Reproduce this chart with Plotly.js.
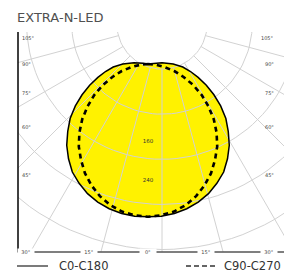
<!DOCTYPE html>
<html><head><meta charset="utf-8">
<script src="https://cdn.plot.ly/plotly-3.0.1.min.js"></script>
<style>html,body{margin:0;padding:0;background:#fff;}#chart{width:288px;height:272px;}</style>
</head><body><div id="chart"></div>
<script>
// ---- data (cd) ----
const gammaSolid = [0,5,10,15,20,25,30,35,40,45,50,55,60,65,70,75,80,85,90,95,100,105];
const c0 = [315,315,313,309,303,295,284,272,255,237,216,196,173,150,128,107,89,72,52,29,10,0];
const c180 = [315,315,313,309,303,295,284,272,255,237,216,196,173,150,128,107,89,72,52,29,10,0];
const gammaDash = [0,5,10,15,20,25,30,35,40,45,50,55,60,65,70,75,80,85,90];
const c90 = [315,313,309,301,290,276,260,241,222,200,177,152,128,103,78,56,33,14,0];
const c270 = [315,313,309,301,290,276,260,241,222,200,177,152,128,103,78,56,33,14,0];
const sideLabels = ['105°','90°','75°','60°','45°'];
const bottomLabels = ['30°','15°','0°','15°','30°'];
const ringLabels = ['160','240'];
const ringLabelValues = [160,240];
const seriesNames = ['C0-C180','C90-C270'];
const titleText = 'EXTRA-N-LED';

// ---- geometry ----
const W=288,H=272, M={l:18,r:4,t:32,b:20};
const S=0.485;                 // px per cd
const O={x:148,y:64};          // pixel of photometric centre
const xr=[(M.l-O.x)/S,(W-M.r-O.x)/S];
const yr=[-(H-M.b-O.y)/S,(O.y-M.t)/S];
const pw=W-M.l-M.r, ph=H-M.t-M.b;
const px2paperX=p=>(p-M.l)/pw, px2paperY=p=>(H-M.b-p)/ph;

function curve(gam, right, left){
  const xs=[],ys=[];
  for(let i=gam.length-1;i>=0;i--){const a=-gam[i]*Math.PI/180;xs.push(left[i]*Math.sin(a));ys.push(-left[i]*Math.cos(a));}
  for(let i=0;i<gam.length;i++){const a=gam[i]*Math.PI/180;xs.push(right[i]*Math.sin(a));ys.push(-right[i]*Math.cos(a));}
  return {xs,ys};
}
const solid=curve(gammaSolid,c0,c180);
const dash=curve(gammaDash,c90,c270);

// grid (drawn with its own centre, as in the source sheet)
const G={x:(162-O.x)/S,y:(O.y-24)/S}, ringStep=93;
const gx=[],gy=[];
for(let k=1;k<=7;k++){const r=k*ringStep;for(let t=0;t<=360;t+=3){gx.push(G.x+r*Math.cos(t*Math.PI/180));gy.push(G.y+r*Math.sin(t*Math.PI/180));}gx.push(null);gy.push(null);}
for(let a=-90;a<=90;a+=15){const t=a*Math.PI/180;gx.push(G.x+ringStep*Math.sin(t),G.x+1200*Math.sin(t),null);gy.push(G.y-ringStep*Math.cos(t),G.y-1200*Math.cos(t),null);}

const traces=[
 {x:solid.xs,y:solid.ys,mode:'lines',fill:'toself',fillcolor:'#fff200',line:{width:0,color:'rgba(0,0,0,0)'},hoverinfo:'skip',showlegend:false},
 {x:gx,y:gy,mode:'lines',line:{color:'#d2d2d2',width:1},hoverinfo:'skip',showlegend:false,connectgaps:false},
 {x:dash.xs,y:dash.ys,mode:'lines',line:{color:'#000',width:2.6,dash:'5px,4px'},name:seriesNames[1],showlegend:false},
 {x:solid.xs,y:solid.ys,mode:'lines',line:{color:'#000',width:1.5},name:seriesNames[0],showlegend:false},
 {x:ringLabelValues.map(()=>0),y:ringLabelValues.map(v=>-v),mode:'text',text:ringLabels,textfont:{size:5.5,color:'#333',family:'DejaVu Sans'},hoverinfo:'skip',showlegend:false}
];

const sideY=[38,64,93,127,175];
const botX=[26,89,148,206,269];
const ann=[];
sideLabels.forEach((t,i)=>{
  ann.push({xref:'paper',yref:'paper',x:px2paperX(20),y:px2paperY(sideY[i]),xanchor:'left',yanchor:'middle',text:t,showarrow:false,font:{size:5,color:'#444',family:'DejaVu Sans'}});
  ann.push({xref:'paper',yref:'paper',x:px2paperX(276),y:px2paperY(sideY[i]),xanchor:'right',yanchor:'middle',text:t,showarrow:false,font:{size:5,color:'#444',family:'DejaVu Sans'}});
});
bottomLabels.forEach((t,i)=>{
  ann.push({xref:'paper',yref:'paper',x:px2paperX(botX[i]),y:px2paperY(252),xanchor:'center',yanchor:'middle',text:t,showarrow:false,bgcolor:'#fff',borderpad:0,width:16,font:{size:5,color:'#444',family:'DejaVu Sans'}});
});
ann.push({xref:'paper',yref:'paper',x:px2paperX(57),y:px2paperY(266),xanchor:'left',yanchor:'middle',text:seriesNames[0],showarrow:false,font:{size:11.5,color:'#333',family:'DejaVu Sans'}});
ann.push({xref:'paper',yref:'paper',x:px2paperX(222),y:px2paperY(266),xanchor:'left',yanchor:'middle',text:seriesNames[1],showarrow:false,font:{size:11.5,color:'#333',family:'DejaVu Sans'}});

const shapes=[
 {type:'line',xref:'paper',yref:'paper',x0:px2paperX(18),x1:px2paperX(18),y0:px2paperY(32),y1:px2paperY(252.5),line:{color:'#000',width:1.5},layer:'above'},
 {type:'line',xref:'paper',yref:'paper',x0:px2paperX(18),x1:px2paperX(284),y0:px2paperY(252),y1:px2paperY(252),line:{color:'#555',width:1.3},layer:'above'},
 {type:'line',xref:'paper',yref:'paper',x0:px2paperX(17),x1:px2paperX(48),y0:px2paperY(266),y1:px2paperY(266),line:{color:'#333',width:1.3}},
 {type:'line',xref:'paper',yref:'paper',x0:px2paperX(186),x1:px2paperX(216),y0:px2paperY(266),y1:px2paperY(266),line:{color:'#333',width:1.3,dash:'5px,3px'}}
];

const layout={
 width:W,height:H,margin:M,paper_bgcolor:'#fff',plot_bgcolor:'#fff',showlegend:false,
 title:{text:titleText,x:17/W,xanchor:'left',xref:'container',y:1-17/H,yanchor:'middle',yref:'container',font:{size:13,color:'#505050',family:'DejaVu Sans'}},
 xaxis:{range:xr,visible:false,fixedrange:true},
 yaxis:{range:yr,visible:false,fixedrange:true},
 annotations:ann,shapes:shapes
};
Plotly.newPlot('chart',traces,layout,{staticPlot:true,displayModeBar:false});
</script></body></html>
